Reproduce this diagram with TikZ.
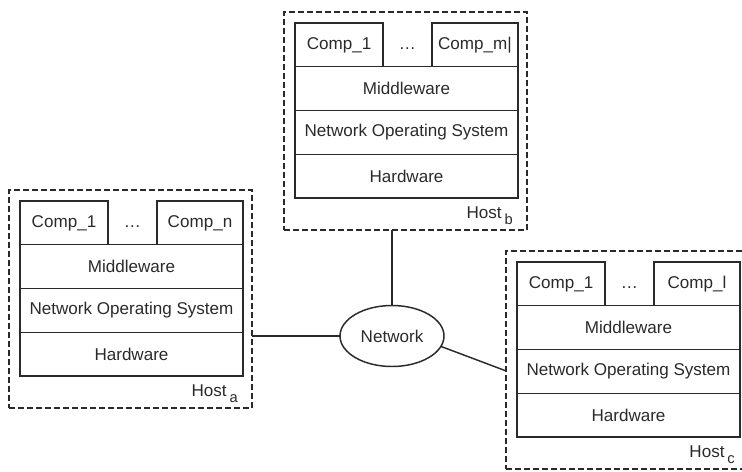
\documentclass[tikz,border=0pt]{standalone}
\usepackage{fontspec}
\setmainfont{Liberation Sans}
\usetikzlibrary{calc,shapes.geometric}
\definecolor{ink}{HTML}{2A2A2A}

% One host: component row, middleware, NOS, hardware, dashed frame, label.
% #1 name prefix, #2 x of stack, #3 y of stack, #4 last component, #5 host subscript
\newcommand\hoststack[5]{%
  \node[comp, anchor=north west] (#1c1) at (#2,#3) {Comp\_1};
  \node[comp, anchor=north east, minimum width=64.5pt] (#1cn) at (#2+223,#3) {#4};
  \path (#1c1.base) ++(68.5,0) node[anchor=base, inner sep=0pt] (#1dots) {\dots};
  \node[layer, anchor=north west] (#1mid) at (#1c1.south west) {Middleware};
  \node[layer, anchor=north] (#1nos) at (#1mid.south) {Network Operating System};
  \node[layer, anchor=north] (#1hw) at (#1nos.south) {Hardware};
  \node[hostframe, anchor=north west] (#1) at (#2-11,#3-11) {};
  \node[hostlbl, anchor=base east] (#1lbl) at (#2+218,#3+195)
    {Host\,\raisebox{-0.4em}{\fontsize{11}{11}\selectfont #5}};
}

\begin{document}
\begin{tikzpicture}[x=0.75pt, y=-0.75pt,
  font=\fontsize{12.8}{14}\selectfont, text=ink,
  comp/.style={draw=ink, line width=1.1pt, minimum width=66pt,
    minimum height=32.8125pt, inner sep=0pt, outer sep=0pt},
  layer/.style={draw=ink, line width=1.1pt, minimum width=167.25pt,
    minimum height=32.8125pt, inner sep=0pt, outer sep=0pt},
  hostframe/.style={draw=ink, line width=1pt, dash pattern=on 4.5pt off 2.25pt,
    minimum width=182.25pt, minimum height=163.5pt, inner sep=0pt, outer sep=0pt},
  hostlbl/.style={inner sep=0pt},
  netnode/.style={ellipse, draw=ink, line width=1.1pt, minimum width=78pt,
    minimum height=45.75pt, inner sep=0pt, outer sep=0pt},
  wire/.style={draw=ink, line width=1.1pt}]
  \clip (0,0) rectangle (742,471);
  \useasboundingbox (0,0) rectangle (742,471);

  \hoststack{ha}{20}{201}{Comp\_n}{a}
  \hoststack{hb}{295}{23}{Comp\_m|}{b}
  \hoststack{hc}{517}{262}{Comp\_l}{c}

  \node[netnode] (net) at (392,336) {Network};

  \coordinate (cjoin) at ($(hc.south west)!0.45!(hc.north west)$);

  \draw[wire] (net.west) -- (net.west -| ha.east);
  \draw[wire] (net.north) -- (net.north |- hb.south);
  \draw[wire] (net.-12) -- (cjoin);
\end{tikzpicture}
\end{document}
